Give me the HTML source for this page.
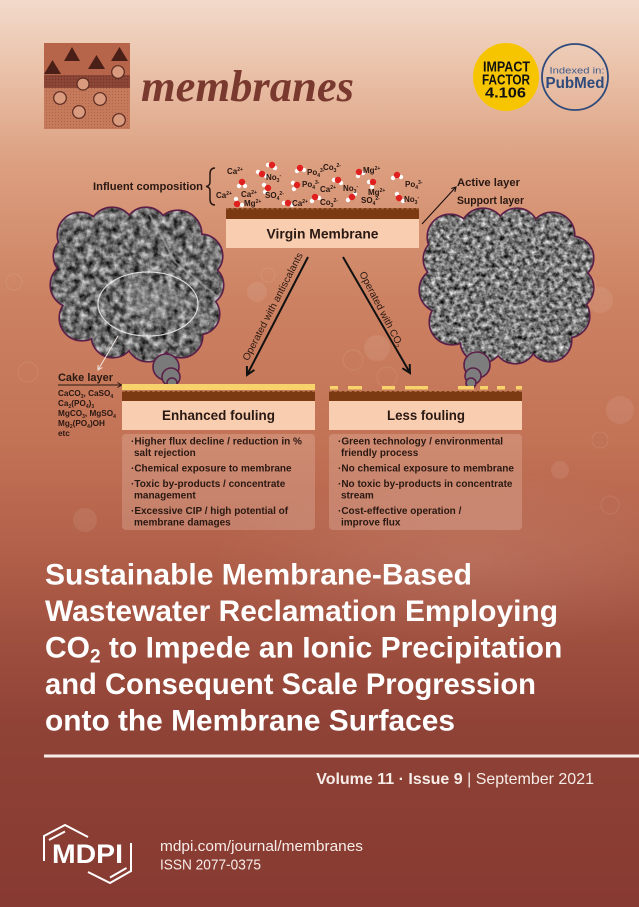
<!DOCTYPE html>
<html>
<head>
<meta charset="utf-8">
<style>
html,body{margin:0;padding:0;width:639px;height:907px;overflow:hidden;background:#a04e3d;}
svg{display:block;}
text{font-family:"Liberation Sans",sans-serif;}
</style>
</head>
<body>
<svg width="639" height="907" viewBox="0 0 639 907" xmlns="http://www.w3.org/2000/svg">
<defs>
  <linearGradient id="bg" x1="0" y1="0" x2="0" y2="1">
    <stop offset="0" stop-color="#f2dacb"/>
    <stop offset="0.07" stop-color="#ebc4ac"/>
    <stop offset="0.18" stop-color="#dc9f80"/>
    <stop offset="0.33" stop-color="#cc8262"/>
    <stop offset="0.48" stop-color="#c37356"/>
    <stop offset="0.6" stop-color="#b3614a"/>
    <stop offset="0.7" stop-color="#a0503f"/>
    <stop offset="0.8" stop-color="#8f4236"/>
    <stop offset="1" stop-color="#873a31"/>
  </linearGradient>
  <radialGradient id="glow" cx="0.5" cy="0.5" r="0.5">
    <stop offset="0" stop-color="#fff" stop-opacity="0.10"/>
    <stop offset="1" stop-color="#fff" stop-opacity="0"/>
  </radialGradient>
  <pattern id="dots" width="3" height="3" patternUnits="userSpaceOnUse">
    <circle cx="1.5" cy="1.5" r="0.5" fill="#8a4434" fill-opacity="0.5"/>
  </pattern>
  <pattern id="dots2" width="3" height="3" patternUnits="userSpaceOnUse">
    <circle cx="1.5" cy="1.5" r="0.7" fill="#5e2a20" fill-opacity="0.6"/>
  </pattern>
  <filter id="semL" x="0" y="0" width="100%" height="100%" color-interpolation-filters="sRGB">
    <feTurbulence type="fractalNoise" baseFrequency="0.15" numOctaves="3" seed="3"/>
    <feColorMatrix type="matrix" values="1.15 0 0 0 -0.14  1.15 0 0 0 -0.14  1.15 0 0 0 -0.14  0 0 0 0 1"/>
  </filter>
  <filter id="semR" x="0" y="0" width="100%" height="100%" color-interpolation-filters="sRGB">
    <feTurbulence type="fractalNoise" baseFrequency="0.22" numOctaves="3" seed="7"/>
    <feColorMatrix type="matrix" values="1.25 0 0 0 -0.15  1.25 0 0 0 -0.15  1.25 0 0 0 -0.15  0 0 0 0 1"/>
  </filter>
  <clipPath id="cloudL">
    <ellipse cx="137" cy="284" rx="66" ry="58"/>
    <circle cx="80" cy="235" r="22"/><circle cx="112" cy="230" r="22"/><circle cx="146" cy="229" r="21"/>
    <circle cx="178" cy="234" r="23"/><circle cx="201" cy="256" r="21"/><circle cx="203" cy="285" r="20"/>
    <circle cx="199" cy="314" r="20"/><circle cx="181" cy="336" r="21"/><circle cx="148" cy="340" r="21"/>
    <circle cx="113" cy="336" r="21"/><circle cx="82" cy="318" r="22"/><circle cx="73" cy="285" r="22"/>
    <circle cx="74" cy="256" r="20"/>
  </clipPath>
  <clipPath id="cloudR">
    <ellipse cx="507" cy="287" rx="66" ry="60"/>
    <circle cx="450" cy="237" r="22"/><circle cx="483" cy="231" r="22"/><circle cx="517" cy="230" r="21"/>
    <circle cx="552" cy="235" r="22"/><circle cx="572" cy="258" r="21"/><circle cx="572" cy="288" r="21"/>
    <circle cx="568" cy="316" r="21"/><circle cx="550" cy="340" r="21"/><circle cx="515" cy="342" r="21"/>
    <circle cx="482" cy="341" r="21"/><circle cx="452" cy="322" r="22"/><circle cx="442" cy="290" r="22"/>
    <circle cx="445" cy="259" r="21"/>
  </clipPath>
</defs>

<!-- background -->
<rect x="0" y="0" width="639" height="907" fill="url(#bg)"/>
<ellipse cx="470" cy="560" rx="260" ry="90" fill="url(#glow)"/>

<!-- faint decorative molecules -->
<g fill="#fff" fill-opacity="0.08" stroke="none">
  <circle cx="257" cy="292" r="10"/><circle cx="377" cy="348" r="13"/>
  <circle cx="600" cy="300" r="13"/><circle cx="620" cy="410" r="14"/>
  <circle cx="85" cy="520" r="12"/><circle cx="560" cy="470" r="9"/>
</g>
<g fill="none" stroke="#fff" stroke-opacity="0.09" stroke-width="1">
  <circle cx="268" cy="275" r="7"/><circle cx="353" cy="360" r="10"/><circle cx="387" cy="377" r="10"/>
  <circle cx="588" cy="284" r="8"/><circle cx="600" cy="440" r="8"/><circle cx="28" cy="372" r="10"/>
  <circle cx="14" cy="282" r="8"/><circle cx="610" cy="505" r="9"/>
</g>

<!-- logo -->
<rect x="44" y="43" width="86" height="32" fill="#b7654a"/>
<rect x="44" y="75" width="86" height="13" fill="#8e4737"/>
<rect x="44" y="75" width="86" height="13" fill="url(#dots2)"/>
<rect x="44" y="88" width="86" height="41" fill="#c67a5c"/>
<rect x="44" y="88" width="86" height="41" fill="url(#dots)"/>
<g fill="#4a1f17">
  <polygon points="44,74 52.5,60 61,74"/>
  <polygon points="64,61 72,47 80,61"/>
  <polygon points="88,69 96.5,55 105,69"/>
  <polygon points="111,61 119.5,47 128,61"/>
</g>
<g fill="#d99a7e" stroke="#5a2a20" stroke-width="1.2">
  <circle cx="118" cy="72" r="6.3"/><circle cx="83" cy="84" r="6"/><circle cx="60" cy="98" r="6.3"/>
  <circle cx="100" cy="99" r="6.3"/><circle cx="79" cy="112" r="6.3"/><circle cx="119" cy="120" r="6.3"/>
</g>
<text x="141" y="101" font-style="italic" font-weight="bold" font-size="44" fill="#7a392f" textLength="213" lengthAdjust="spacingAndGlyphs" style="font-family:'Liberation Serif',serif">membranes</text>

<!-- impact factor -->
<ellipse cx="506" cy="77" rx="33" ry="34" fill="#f7c500"/>
<g font-weight="bold" fill="#111" text-anchor="middle">
  <text x="506.5" y="71.5" font-size="15" textLength="47" lengthAdjust="spacingAndGlyphs">IMPACT</text>
  <text x="506" y="84.5" font-size="15" textLength="48" lengthAdjust="spacingAndGlyphs">FACTOR</text>
  <text x="505.5" y="97.5" font-size="15" textLength="41" lengthAdjust="spacingAndGlyphs">4.106</text>
</g>
<!-- pubmed -->
<circle cx="575" cy="77" r="33" fill="#fff" fill-opacity="0.04" stroke="#2f4b7c" stroke-width="1.8"/>
<text x="577" y="73.5" font-size="9.5" fill="#3d5b8c" text-anchor="middle" textLength="55" lengthAdjust="spacingAndGlyphs">Indexed in:</text>
<text x="575" y="88" font-size="16" font-weight="bold" fill="#2f4b7c" text-anchor="middle" textLength="59" lengthAdjust="spacingAndGlyphs">PubMed</text>

<!-- influent composition -->
<text x="93" y="190" font-size="10.8" font-weight="bold" fill="#2a1812" textLength="110" lengthAdjust="spacingAndGlyphs">Influent composition</text>
<path d="M215,168 Q210,168 210,174 L210,182 Q210,186 206,186.5 Q210,187 210,191 L210,199 Q210,205 215,205" fill="none" stroke="#2a1812" stroke-width="1.5"/>

<!-- molecules -->
<g>
  <g transform="translate(262,174)"><circle cx="-4" cy="-2" r="2.2" fill="#fff"/><circle cx="4" cy="2" r="2.2" fill="#fff"/><circle r="3.2" fill="#e0201e"/></g>
  <g transform="translate(272,165)"><circle cx="-4" cy="0" r="2.2" fill="#fff"/><circle cx="3" cy="3" r="2.2" fill="#fff"/><circle r="3.2" fill="#e0201e"/></g>
  <g transform="translate(300,168)"><circle cx="-3" cy="3" r="2.2" fill="#fff"/><circle cx="4" cy="2" r="2.2" fill="#fff"/><circle r="3.2" fill="#e0201e"/></g>
  <g transform="translate(338,180)"><circle cx="-4" cy="0" r="2.2" fill="#fff"/><circle cx="3" cy="3" r="2.2" fill="#fff"/><circle r="3.2" fill="#e0201e"/></g>
  <g transform="translate(359,172)"><circle cx="-1" cy="4" r="2.2" fill="#fff"/><circle cx="4" cy="1" r="2.2" fill="#fff"/><circle r="3.2" fill="#e0201e"/></g>
  <g transform="translate(397,175)"><circle cx="-4" cy="3" r="2.2" fill="#fff"/><circle cx="4" cy="2" r="2.2" fill="#fff"/><circle r="3.2" fill="#e0201e"/></g>
  <g transform="translate(242,182)"><circle cx="-3" cy="4" r="2.2" fill="#fff"/><circle cx="3" cy="4" r="2.2" fill="#fff"/><circle r="3.2" fill="#e0201e"/></g>
  <g transform="translate(268,188)"><circle cx="-4" cy="-3" r="2.2" fill="#fff"/><circle cx="-3" cy="4" r="2.2" fill="#fff"/><circle r="3.2" fill="#e0201e"/></g>
  <g transform="translate(297,185)"><circle cx="-4" cy="-2" r="2.2" fill="#fff"/><circle cx="-3" cy="4" r="2.2" fill="#fff"/><circle r="3.2" fill="#e0201e"/></g>
  <g transform="translate(373,182)"><circle cx="-4" cy="0" r="2.2" fill="#fff"/><circle cx="-1" cy="5" r="2.2" fill="#fff"/><circle r="3.2" fill="#e0201e"/></g>
  <g transform="translate(237,204)"><circle cx="-1" cy="-5" r="2.2" fill="#fff"/><circle cx="5" cy="1" r="2.2" fill="#fff"/><circle r="3.2" fill="#e0201e"/></g>
  <g transform="translate(288,203)"><circle cx="-4" cy="0" r="2.2" fill="#fff"/><circle cx="4" cy="2" r="2.2" fill="#fff"/><circle r="3.2" fill="#e0201e"/></g>
  <g transform="translate(315,197)"><circle cx="-3" cy="4" r="2.2" fill="#fff"/><circle cx="4" cy="1" r="2.2" fill="#fff"/><circle r="3.2" fill="#e0201e"/></g>
  <g transform="translate(352,197)"><circle cx="-4" cy="3" r="2.2" fill="#fff"/><circle cx="3" cy="-3" r="2.2" fill="#fff"/><circle r="3.2" fill="#e0201e"/></g>
  <g transform="translate(399,198)"><circle cx="-2" cy="-4" r="2.2" fill="#fff"/><circle cx="4" cy="3" r="2.2" fill="#fff"/><circle r="3.2" fill="#e0201e"/></g>
</g>
<g font-size="8" font-weight="bold" fill="#2a1812">
  <text x="227" y="174">Ca<tspan font-size="5" dy="-3">2+</tspan></text>
  <text x="266" y="180">No<tspan font-size="5" dy="2">3</tspan><tspan font-size="5" dy="-5">-</tspan></text>
  <text x="307" y="175">Po<tspan font-size="5" dy="2">4</tspan><tspan font-size="5" dy="-5">3-</tspan></text>
  <text x="323" y="170">Co<tspan font-size="5" dy="2">3</tspan><tspan font-size="5" dy="-5">2-</tspan></text>
  <text x="363" y="173">Mg<tspan font-size="5" dy="-3">2+</tspan></text>
  <text x="302" y="187">Po<tspan font-size="5" dy="2">4</tspan><tspan font-size="5" dy="-5">3-</tspan></text>
  <text x="320" y="192">Ca<tspan font-size="5" dy="-3">2+</tspan></text>
  <text x="343" y="191">No<tspan font-size="5" dy="2">3</tspan><tspan font-size="5" dy="-5">-</tspan></text>
  <text x="368" y="195">Mg<tspan font-size="5" dy="-3">2+</tspan></text>
  <text x="405" y="187">Po<tspan font-size="5" dy="2">4</tspan><tspan font-size="5" dy="-5">3-</tspan></text>
  <text x="216" y="198">Ca<tspan font-size="5" dy="-3">2+</tspan></text>
  <text x="241" y="197">Ca<tspan font-size="5" dy="-3">2+</tspan></text>
  <text x="265" y="198">SO<tspan font-size="5" dy="2">4</tspan><tspan font-size="5" dy="-5">2-</tspan></text>
  <text x="244" y="206">Mg<tspan font-size="5" dy="-3">2+</tspan></text>
  <text x="292" y="206">Ca<tspan font-size="5" dy="-3">2+</tspan></text>
  <text x="320" y="205">Co<tspan font-size="5" dy="2">3</tspan><tspan font-size="5" dy="-5">2-</tspan></text>
  <text x="361" y="203">SO<tspan font-size="5" dy="2">4</tspan><tspan font-size="5" dy="-5">2-</tspan></text>
  <text x="404" y="202">No<tspan font-size="5" dy="2">3</tspan><tspan font-size="5" dy="-5">-</tspan></text>
</g>

<!-- virgin membrane -->
<rect x="226" y="208" width="193" height="11" fill="#7c3a12"/>
<line x1="226" y1="208.8" x2="419" y2="208.8" stroke="#b7774a" stroke-width="0.8" stroke-dasharray="3 2"/>
<rect x="226" y="219" width="193" height="29" fill="#f8cdb0"/>
<text x="322.5" y="238.5" font-size="14" font-weight="bold" fill="#2a1812" text-anchor="middle" textLength="112" lengthAdjust="spacingAndGlyphs">Virgin Membrane</text>

<!-- active/support layer -->
<line x1="422" y1="224" x2="455" y2="188" stroke="#1a1010" stroke-width="1.1"/>
<polyline points="451.2,188.5 456,187 454.9,191.9" fill="none" stroke="#1a1010" stroke-width="1.1"/>
<text x="457" y="186" font-size="11.2" font-weight="bold" fill="#2a1812" textLength="63" lengthAdjust="spacingAndGlyphs">Active layer</text>
<text x="457" y="204" font-size="11.2" font-weight="bold" fill="#2a1812" textLength="67" lengthAdjust="spacingAndGlyphs">Support layer</text>

<!-- left cloud -->
<g fill="#5b1f48" stroke="#5b1f48" stroke-width="3.2">
  <ellipse cx="137" cy="284" rx="66" ry="58"/>
  <circle cx="80" cy="235" r="22"/><circle cx="112" cy="230" r="22"/><circle cx="146" cy="229" r="21"/>
  <circle cx="178" cy="234" r="23"/><circle cx="201" cy="256" r="21"/><circle cx="203" cy="285" r="20"/>
  <circle cx="199" cy="314" r="20"/><circle cx="181" cy="336" r="21"/><circle cx="148" cy="340" r="21"/>
  <circle cx="113" cy="336" r="21"/><circle cx="82" cy="318" r="22"/><circle cx="73" cy="285" r="22"/>
  <circle cx="74" cy="256" r="20"/>
</g>
<g clip-path="url(#cloudL)">
  <rect x="48" y="205" width="180" height="160" fill="#777" filter="url(#semL)"/>
  <path d="M150,215 L175,262 L222,300" fill="none" stroke="#a8a8a8" stroke-width="2" stroke-opacity="0.6"/>
  <ellipse cx="150" cy="300" rx="28" ry="18" fill="#bdbdbd" fill-opacity="0.25"/>
</g>
<ellipse cx="148" cy="304" rx="50" ry="32" fill="none" stroke="#eee" stroke-width="1.2" stroke-opacity="0.85"/>
<line x1="118" y1="336" x2="98" y2="370" stroke="#f2e6e0" stroke-width="1"/>
<polyline points="102.4,367.5 98,370 98,365" fill="none" stroke="#f2e6e0" stroke-width="1"/>
<g fill="#7a7a7a" stroke="#5b1f48" stroke-width="1.6">
  <circle cx="166" cy="367" r="13"/><circle cx="171" cy="377" r="9"/><circle cx="172" cy="383" r="5"/>
</g>

<!-- right cloud -->
<g fill="#5b1f48" stroke="#5b1f48" stroke-width="3.2">
  <ellipse cx="507" cy="287" rx="66" ry="60"/>
  <circle cx="450" cy="237" r="22"/><circle cx="483" cy="231" r="22"/><circle cx="517" cy="230" r="21"/>
  <circle cx="552" cy="235" r="22"/><circle cx="572" cy="258" r="21"/><circle cx="572" cy="288" r="21"/>
  <circle cx="568" cy="316" r="21"/><circle cx="550" cy="340" r="21"/><circle cx="515" cy="342" r="21"/>
  <circle cx="482" cy="341" r="21"/><circle cx="452" cy="322" r="22"/><circle cx="442" cy="290" r="22"/>
  <circle cx="445" cy="259" r="21"/>
</g>
<g clip-path="url(#cloudR)">
  <rect x="417" y="206" width="180" height="160" fill="#777" filter="url(#semR)"/>
</g>
<g fill="#7d7d7d" stroke="#5b1f48" stroke-width="1.6">
  <circle cx="477" cy="365" r="13"/><circle cx="473" cy="376" r="8"/><circle cx="471" cy="383" r="5"/>
</g>

<!-- arrows -->
<line x1="308" y1="257" x2="247.5" y2="374" stroke="#111" stroke-width="2"/>
<polyline points="254.4,369.9 247,375 246.9,366" fill="none" stroke="#111" stroke-width="2"/>
<line x1="343" y1="257" x2="409.5" y2="372" stroke="#111" stroke-width="2"/>
<polyline points="409.7,364 410,373 402.4,368.2" fill="none" stroke="#111" stroke-width="2"/>
<text transform="translate(272.5,306.5) rotate(-62.7)" y="3.5" font-size="10" fill="#2a1812" text-anchor="middle" textLength="120" lengthAdjust="spacingAndGlyphs">Operated with antiscalants</text>
<text transform="translate(381.5,309) rotate(62.5)" y="3.5" font-size="10" fill="#2a1812" text-anchor="middle">Operated with CO<tspan font-size="6" dy="2">2</tspan></text>

<!-- cake layer -->
<text x="58" y="381" font-size="11" font-weight="bold" fill="#2a1812" textLength="55" lengthAdjust="spacingAndGlyphs">Cake layer</text>
<line x1="58" y1="385" x2="121" y2="385" stroke="#2a1812" stroke-width="1"/>
<polyline points="117.5,382.5 121.5,385 117.5,387.5" fill="none" stroke="#2a1812" stroke-width="1"/>
<g font-size="8.2" font-weight="bold" fill="#2a1812">
  <text x="58" y="396">CaCO<tspan font-size="5" dy="2">3</tspan><tspan dy="-2">, CaSO</tspan><tspan font-size="5" dy="2">4</tspan></text>
  <text x="58" y="406">Ca<tspan font-size="5" dy="2">2</tspan><tspan dy="-2">(PO</tspan><tspan font-size="5" dy="2">4</tspan><tspan dy="-2">)</tspan><tspan font-size="5" dy="2">3</tspan></text>
  <text x="58" y="416">MgCO<tspan font-size="5" dy="2">3</tspan><tspan dy="-2">, MgSO</tspan><tspan font-size="5" dy="2">4</tspan></text>
  <text x="58" y="426">Mg<tspan font-size="5" dy="2">2</tspan><tspan dy="-2">(PO</tspan><tspan font-size="5" dy="2">4</tspan><tspan dy="-2">)OH</tspan></text>
  <text x="58" y="436">etc</text>
</g>

<!-- left fouled membrane -->
<rect x="122" y="384" width="193" height="6" fill="#f8d26a"/>
<rect x="122" y="391" width="193" height="10" fill="#7c3a12"/>
<line x1="122" y1="391.5" x2="315" y2="391.5" stroke="#b7774a" stroke-width="0.8" stroke-dasharray="3 2"/>
<rect x="122" y="401" width="193" height="29" fill="#f8cdb0"/>
<text x="218.5" y="420" font-size="13.5" font-weight="bold" fill="#2a1812" text-anchor="middle" textLength="113" lengthAdjust="spacingAndGlyphs">Enhanced fouling</text>

<!-- right membrane -->
<g fill="#f8d26a">
  <rect x="330" y="386" width="8" height="3.5"/><rect x="348" y="386" width="14" height="3.5"/>
  <rect x="382" y="386" width="13" height="3.5"/><rect x="405" y="386" width="23" height="3.5"/>
  <rect x="458" y="386" width="16" height="3.5"/><rect x="480" y="386" width="8" height="3.5"/>
  <rect x="497" y="386" width="8" height="3.5"/><rect x="516" y="386" width="6" height="3.5"/>
</g>
<rect x="329" y="391" width="193" height="10" fill="#7c3a12"/>
<line x1="329" y1="391.5" x2="522" y2="391.5" stroke="#b7774a" stroke-width="0.8" stroke-dasharray="3 2"/>
<rect x="329" y="401" width="193" height="29" fill="#f8cdb0"/>
<text x="426" y="420" font-size="13.5" font-weight="bold" fill="#2a1812" text-anchor="middle" textLength="78" lengthAdjust="spacingAndGlyphs">Less fouling</text>

<!-- bullet boxes -->
<rect x="122" y="434" width="193" height="96" rx="4" fill="#fbe2d4" fill-opacity="0.22"/>
<rect x="329" y="434" width="193" height="96" rx="4" fill="#fbe2d4" fill-opacity="0.22"/>
<g font-size="10" font-weight="bold" fill="#2a1812">
  <text x="131" y="444.5" textLength="171" lengthAdjust="spacingAndGlyphs">·Higher flux decline / reduction in %</text>
  <text x="134" y="456">salt rejection</text>
  <text x="131" y="471.5">·Chemical exposure to membrane</text>
  <text x="131" y="487">·Toxic by-products / concentrate</text>
  <text x="134" y="498.5">management</text>
  <text x="131" y="514">·Excessive CIP / high potential of</text>
  <text x="134" y="525.5">membrane damages</text>

  <text x="338" y="444.5">·Green technology / environmental</text>
  <text x="341" y="456">friendly process</text>
  <text x="338" y="471.5" textLength="176" lengthAdjust="spacingAndGlyphs">·No chemical exposure to membrane</text>
  <text x="338" y="487">·No toxic by-products in concentrate</text>
  <text x="341" y="498.5">stream</text>
  <text x="338" y="514">·Cost-effective operation /</text>
  <text x="341" y="525.5">improve flux</text>
</g>

<!-- title -->
<g font-size="30" font-weight="bold" fill="#ffffff">
  <text x="45" y="584.5" textLength="427" lengthAdjust="spacingAndGlyphs">Sustainable Membrane-Based</text>
  <text x="45" y="621" textLength="513" lengthAdjust="spacingAndGlyphs">Wastewater Reclamation Employing</text>
  <text x="45" y="657.5">CO<tspan font-size="19" dy="5">2</tspan><tspan dy="-5"> to Impede an Ionic Precipitation</tspan></text>
  <text x="45" y="694" textLength="491" lengthAdjust="spacingAndGlyphs">and Consequent Scale Progression</text>
  <text x="45" y="730.5" textLength="410" lengthAdjust="spacingAndGlyphs">onto the Membrane Surfaces</text>
</g>
<rect x="44" y="754.5" width="595" height="3" fill="#f6ece8"/>
<text x="594" y="784" font-size="16" fill="#f6ece8" text-anchor="end"><tspan font-weight="bold">Volume 11 · Issue 9</tspan> | September 2021</text>

<!-- MDPI -->
<g fill="none" stroke="#fff" stroke-width="2">
  <polyline points="44,861 44,836 65,825 88,837"/>
  <line x1="49" y1="840" x2="65" y2="831.5"/>
  <polyline points="88,872 110,883 131,871 131,843"/>
  <line x1="110" y1="877.5" x2="126.5" y2="868"/>
</g>
<text x="52" y="863" font-size="27" font-weight="bold" fill="#fff" textLength="71" lengthAdjust="spacingAndGlyphs">MDPI</text>
<text x="160" y="851" font-size="15" fill="#f6ece8" textLength="203" lengthAdjust="spacingAndGlyphs">mdpi.com/journal/membranes</text>
<text x="160" y="869.5" font-size="15" fill="#f6ece8" textLength="101" lengthAdjust="spacingAndGlyphs">ISSN 2077-0375</text>
</svg>
</body>
</html>
